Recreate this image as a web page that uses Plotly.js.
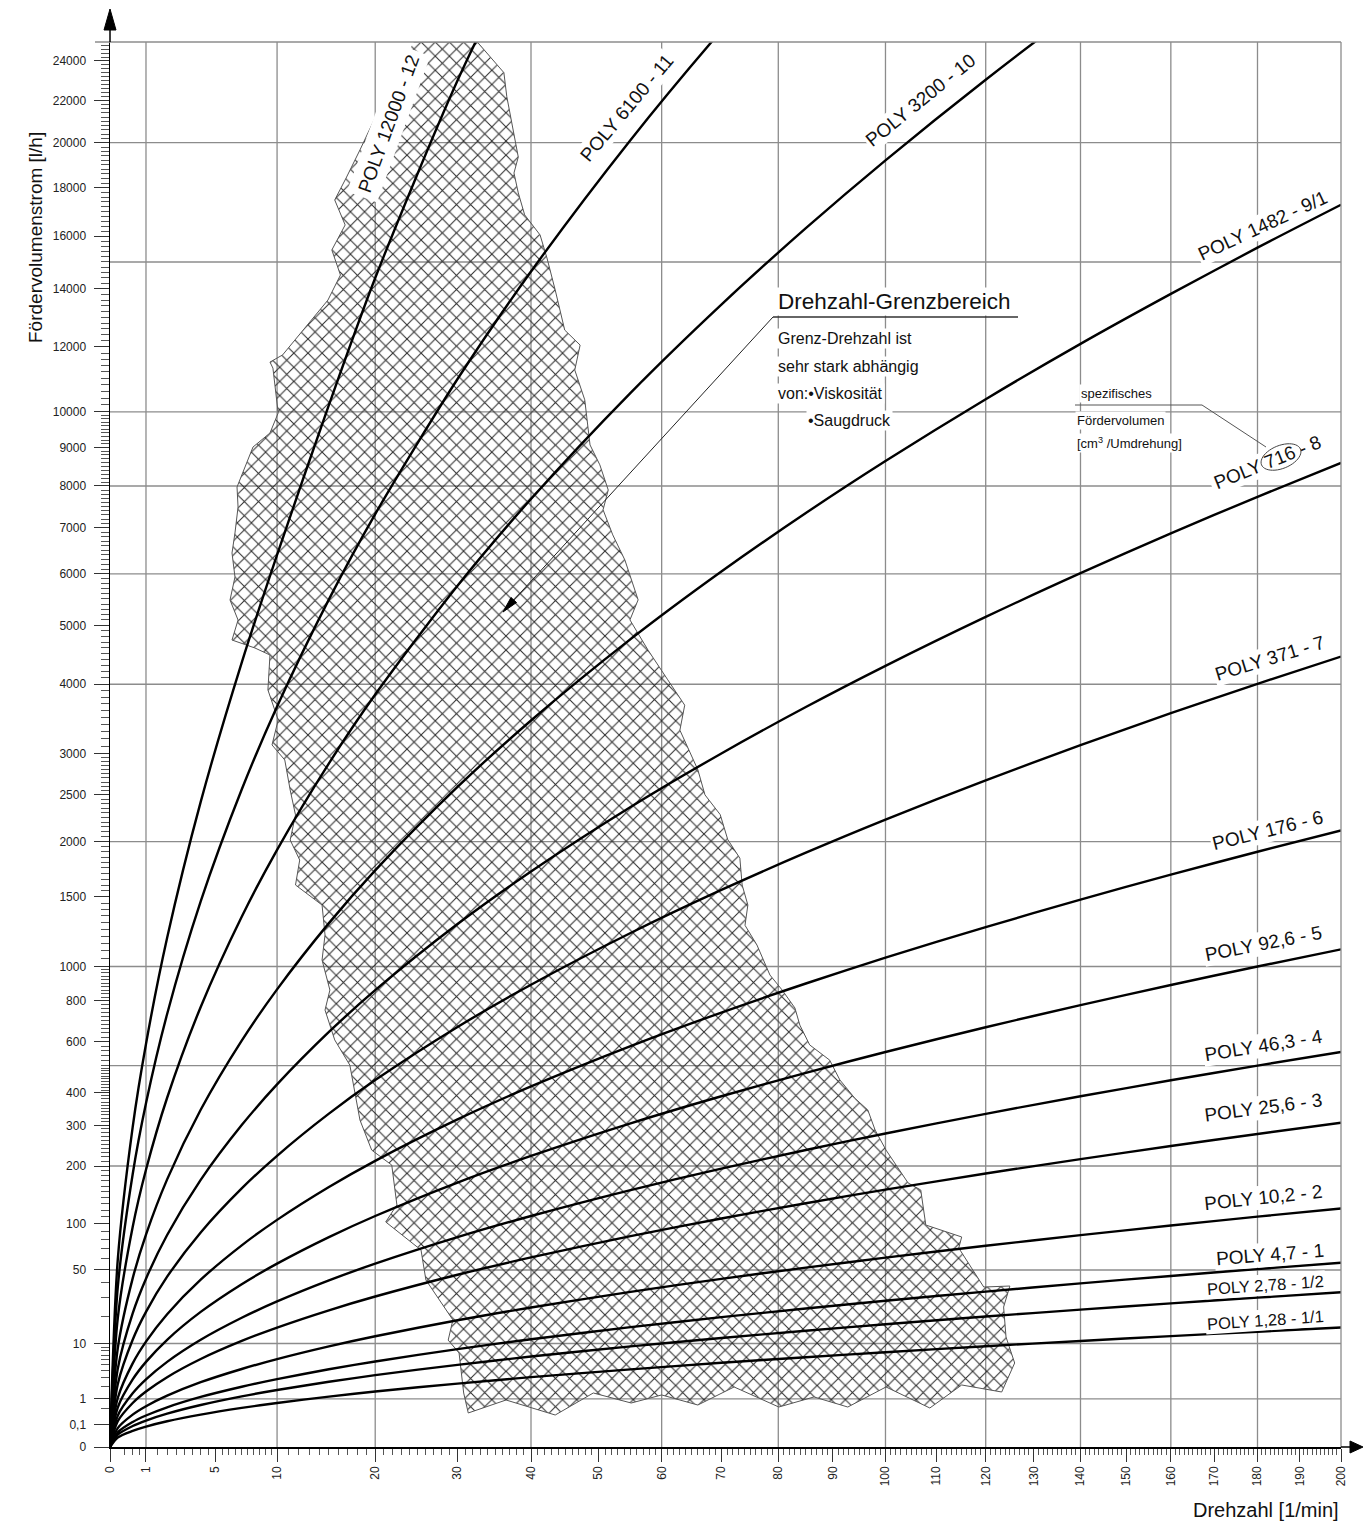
<!DOCTYPE html>
<html><head><meta charset="utf-8">
<script src="https://cdn.plot.ly/plotly-3.0.1.min.js"></script>
<style>html,body{margin:0;padding:0;background:#fff}#chart{width:1363px;height:1529px}</style>
</head><body><div id="chart"></div>
<script>
// ---------------- data ----------------
// speed grid [1/min] at which each characteristic was read
const speeds = [0, 0.1, 0.5, 1, 2, 4, 7, 10, 15, 20, 30, 40, 55, 70, 85, 100, 120, 140, 160, 180, 200];

const seriesNames = ['POLY 1,28 - 1/1', 'POLY 2,78 - 1/2', 'POLY 4,7 - 1', 'POLY 10,2 - 2', 'POLY 25,6 - 3',
  'POLY 46,3 - 4', 'POLY 92,6 - 5', 'POLY 176 - 6', 'POLY 371 - 7', 'POLY 716 - 8', 'POLY 1482 - 9/1',
  'POLY 3200 - 10', 'POLY 6100 - 11', 'POLY 12000 - 12'];

// flow [l/h] at the speeds above
const flowPoly1_28 = [0, 0.0077, 0.038, 0.077, 0.154, 0.307, 0.538, 0.768, 1.15, 1.54, 2.3, 3.07, 4.22, 5.38, 6.53, 7.68, 9.22, 10.75, 12.29, 13.82, 15.36];
const flowPoly2_78 = [0, 0.0167, 0.083, 0.167, 0.334, 0.667, 1.17, 1.67, 2.5, 3.34, 5.0, 6.67, 9.17, 11.68, 14.18, 16.68, 20.02, 23.35, 26.69, 30.02, 33.36];
const flowPoly4_7 = [0, 0.028, 0.141, 0.282, 0.564, 1.13, 1.97, 2.82, 4.23, 5.64, 8.46, 11.28, 15.51, 19.74, 23.97, 28.2, 33.84, 39.48, 45.12, 50.76, 56.4];
const flowPoly10_2 = [0, 0.061, 0.306, 0.612, 1.22, 2.45, 4.28, 6.12, 9.18, 12.24, 18.36, 24.48, 33.66, 42.84, 52.02, 61.2, 73.44, 85.68, 97.92, 110.2, 122.4];
const flowPoly25_6 = [0, 0.154, 0.768, 1.54, 3.07, 6.14, 10.75, 15.36, 23.04, 30.72, 46.08, 61.44, 84.48, 107.5, 130.6, 153.6, 184.3, 215, 245.8, 276.5, 307.2];
const flowPoly46_3 = [0, 0.278, 1.39, 2.78, 5.56, 11.11, 19.45, 27.78, 41.67, 55.56, 83.34, 111.1, 152.8, 194.5, 236.1, 277.8, 333.4, 388.9, 444.5, 500, 555.6];
const flowPoly92_6 = [0, 0.556, 2.78, 5.56, 11.11, 22.22, 38.89, 55.56, 83.34, 111.1, 166.7, 222.2, 305.6, 388.9, 472.3, 555.6, 666.7, 777.8, 889, 1000, 1111];
const flowPoly176 = [0, 1.06, 5.28, 10.56, 21.12, 42.24, 73.92, 105.6, 158.4, 211.2, 316.8, 422.4, 580.8, 739.2, 897.6, 1056, 1267, 1478, 1690, 1901, 2112];
const flowPoly371 = [0, 2.23, 11.13, 22.26, 44.52, 89.04, 155.8, 222.6, 333.9, 445.2, 667.8, 890.4, 1224, 1558, 1892, 2226, 2671, 3116, 3562, 4007, 4452];
const flowPoly716 = [0, 4.3, 21.48, 42.96, 85.92, 171.8, 300.7, 429.6, 644.4, 859.2, 1289, 1718, 2363, 3007, 3652, 4296, 5155, 6014, 6874, 7733, 8592];
const flowPoly1482 = [0, 8.64, 43.2, 86.4, 172.8, 345.6, 604.8, 864, 1296, 1728, 2592, 3456, 4752, 6048, 7344, 8640, 10370, 12100, 13820, 15550, 17280];
const flowPoly3200 = [0, 19.2, 96, 192, 384, 768, 1344, 1920, 2880, 3840, 5760, 7680, 10560, 13440, 16320, 19200, 23040, 26880, 30720, 34560, 38400];
const flowPoly6100 = [0, 36.6, 183, 366, 732, 1464, 2562, 3660, 5490, 7320, 10980, 14640, 20130, 25620, 31110];
const flowPoly12000 = [0, 59, 295, 590, 1190, 2420, 4350, 6400, 10200, 14400, 23000, 31500];

const seriesFlows = [flowPoly1_28, flowPoly2_78, flowPoly4_7, flowPoly10_2, flowPoly25_6, flowPoly46_3,
  flowPoly92_6, flowPoly176, flowPoly371, flowPoly716, flowPoly1482, flowPoly3200, flowPoly6100, flowPoly12000];

// "Drehzahl-Grenzbereich" (hatched speed-limit region), outline vertices
const hatchSpeed = [24.5, 32.6, 36.2, 36.6, 38.2, 37.6, 38.2, 39.1, 41.3, 42.3,
  43.5, 44.9, 47.2, 46.4, 47.9, 48.7, 50.2, 51.5, 50.7, 52.2,
  54.1, 56.2, 54.9, 57.8, 61.0, 63.8, 63.0, 66.0, 67.2, 69.8,
  71.1, 73.2, 73.6, 74.6, 74.1, 76.2, 78.5, 80.7, 83.0, 83.9,
  85.7, 89.4, 91.3, 94.1, 96.6, 98.0, 100.1, 104.4, 106.9, 107.9,
  115.1, 114.5, 119.6, 125.0, 123.7, 124.2, 126.0, 123.3, 115.1, 108.7,
  100.1, 92.8, 86.5, 80.1, 72.2, 66.0, 60.0, 55.1, 49.2, 43.5,
  36.5, 31.4, 30.8, 30.2, 28.8, 29.4, 26.0, 25.4, 21.2, 22.5,
  21.9, 19.6, 18.3, 17.8, 17.2, 15.6, 14.6, 15.1, 14.3, 14.6,
  14.3, 11.7, 12.1, 11.2, 11.7, 11.2, 10.7, 9.55, 10.1, 9.19,
  9.37, 8.08, 6.24, 6.71, 6.09, 6.47, 6.24, 6.47, 6.71, 6.63,
  7.92, 9.37, 10.1, 9.63, 9.37, 10.5, 13.1, 14.9, 16.2, 15.3,
  16.7, 15.6, 16.8, 18.3, 20.3];
const hatchFlow = [25000, 25000, 23400, 22200, 19350, 18640, 17780, 16860, 16050, 15150,
  13960, 12560, 12060, 11260, 10350, 9070, 8540, 7900, 7420, 6840,
  6290, 5480, 5100, 4560, 4070, 3680, 3320, 2800, 2500, 2280,
  2020, 1840, 1600, 1435, 1280, 1140, 948, 860, 763, 677,
  586, 522, 446, 383, 345, 287, 236, 166, 153, 98.6,
  83.5, 71, 36.9, 37.6, 24.7, 12, 5.34, 1.5, 2.15, 0.535,
  1.95, 0.576, 1.13, 0.576, 1.95, 0.668, 1.27, 0.768, 1.42, 0.295,
  0.936, 0.355, 1.42, 7.49, 11, 18.5, 42, 68.9, 102.7, 128,
  202, 236, 315, 393, 502, 608, 752, 860, 1041, 1210,
  1435, 1600, 1823, 2016, 2276, 2556, 2923, 3119, 3464, 3911,
  4478, 4598, 4737, 5098, 5477, 5936, 6441, 6883, 7487, 7975,
  9014, 9398, 9965, 11320, 11510, 11740, 12830, 13600, 14510, 15460,
  16450, 17480, 18420, 19670, 21450];

// axes
const xTickValues = [0, 1, 5, 10, 20, 30, 40, 50, 60, 70, 80, 90, 100, 110, 120, 130, 140, 150, 160, 170, 180, 190, 200];
const xTickLabels = ['0', '1', '5', '10', '20', '30', '40', '50', '60', '70', '80', '90', '100', '110', '120', '130', '140', '150', '160', '170', '180', '190', '200'];
const yTickValues = [0, 0.1, 1, 10, 50, 100, 200, 300, 400, 600, 800, 1000, 1500, 2000, 2500, 3000, 4000, 5000, 6000, 7000, 8000, 9000, 10000, 12000, 14000, 16000, 18000, 20000, 22000, 24000];
const yTickLabels = ['0', '0,1', '1', '10', '50', '100', '200', '300', '400', '600', '800', '1000', '1500', '2000', '2500', '3000', '4000', '5000', '6000', '7000', '8000', '9000', '10000', '12000', '14000', '16000', '18000', '20000', '22000', '24000'];
const gridSpeeds = [1, 10, 20, 40, 60, 80, 100, 120, 140, 160, 180];
const gridFlows = [1, 10, 50, 200, 500, 1000, 2000, 4000, 6000, 8000, 10000, 15000, 20000];

// ---------------- scales (x ~ n^(2/3), y ~ Q^(1/3)) ----------------
const TX = n => Math.pow(n, 2 / 3);
const TY = q => Math.cbrt(q);
const XMAX = TX(200), YMAX = TY(25000);
const FONT = '"Liberation Sans", Arial, sans-serif';

// pixel -> paper helper for layout decorations
const L = 110, R = 1341, B = 1447, T = 42;
const PX = p => (p - L) / (R - L);
const PY = p => (B - p) / (B - T);

// minor ticks
function steps(a, b, s, skip) { const o = []; for (let v = a; v < b - 1e-9; v += s) { const r = Math.round(v * 1000) / 1000; if (!skip.includes(r)) o.push(r); } return o; }
const minorX = [0.25, 0.5, 0.75].concat(steps(1.5, 10, 0.5, xTickValues), steps(11, 200, 1, xTickValues));
const minorY = [0.5].concat(steps(2, 10, 1, yTickValues), steps(20, 50, 10, yTickValues), steps(60, 100, 10, yTickValues),
  steps(110, 500, 10, yTickValues), steps(500, 1000, 20, yTickValues), steps(1050, 3000, 50, yTickValues),
  steps(3100, 10000, 100, yTickValues), steps(10200, 25000, 200, yTickValues));

// ---------------- traces ----------------
const traces = [];
traces.push({
  type: 'scatter', mode: 'lines', x: hatchSpeed.map(TX), y: hatchFlow.map(TY),
  fill: 'toself', fillcolor: 'rgba(0,0,0,0)',
  fillpattern: {shape: 'x', size: 10, solidity: 0.2, fgcolor: '#2e2e2e', bgcolor: 'rgba(0,0,0,0)', fgopacity: 1},
  line: {color: '#555', width: 1}, hoverinfo: 'skip', showlegend: false
});
seriesFlows.forEach((vals, i) => {
  traces.push({
    type: 'scatter', mode: 'lines', name: seriesNames[i],
    x: speeds.slice(0, vals.length).map(TX), y: vals.map(TY),
    line: {color: '#000', width: 2.4, shape: 'spline', smoothing: 0.8},
    hoverinfo: 'skip', showlegend: false
  });
});

// ---------------- shapes ----------------
const GRID = {color: '#8c8c8c', width: 1.3};
const shapes = [];
gridSpeeds.forEach(n => shapes.push({type: 'line', layer: 'below', xref: 'x', yref: 'paper', x0: TX(n), x1: TX(n), y0: 0, y1: 1, line: GRID}));
gridFlows.forEach(q => shapes.push({type: 'line', layer: 'below', xref: 'paper', yref: 'y', x0: 0, x1: 1, y0: TY(q), y1: TY(q), line: GRID}));
// frame top & right
shapes.push({type: 'line', xref: 'paper', yref: 'paper', x0: PX(95), x1: 1, y0: 1, y1: 1, line: GRID});
shapes.push({type: 'line', xref: 'paper', yref: 'paper', x0: 1, x1: 1, y0: 0, y1: 1, line: GRID});
// white box behind the "POLY 716 - 8" label (drawn below the curves)
function rotRect(cx, cy, hw, hh, deg) {
  const a = deg * Math.PI / 180, ux = Math.cos(a), uy = Math.sin(a), vx = -Math.sin(a), vy = Math.cos(a);
  const pts = [[-hw, -hh], [hw, -hh], [hw, hh], [-hw, hh]].map(p => [cx + p[0] * ux + p[1] * vx, cy + p[0] * uy + p[1] * vy]);
  return 'M ' + pts.map(p => PX(p[0]) + ' ' + PY(p[1])).join(' L ') + ' Z';
}
shapes.push({type: 'path', layer: 'below', xref: 'paper', yref: 'paper', path: rotRect(1267, 463, 60, 12, -22), fillcolor: '#fff', line: {width: 0}});
// axis extensions + arrows
shapes.push({type: 'line', xref: 'paper', yref: 'paper', x0: PX(110), x1: PX(110), y0: PY(42), y1: PY(28), line: {color: '#000', width: 1.5}});
shapes.push({type: 'path', xref: 'paper', yref: 'paper', path: `M ${PX(104)} ${PY(30)} L ${PX(116)} ${PY(30)} L ${PX(110)} ${PY(9)} Z`, fillcolor: '#000', line: {color: '#000', width: 1}});
shapes.push({type: 'line', xref: 'paper', yref: 'paper', x0: PX(1341), x1: PX(1352), y0: PY(1447), y1: PY(1447), line: {color: '#000', width: 1.5}});
shapes.push({type: 'path', xref: 'paper', yref: 'paper', path: `M ${PX(1350)} ${PY(1441)} L ${PX(1350)} ${PY(1453)} L ${PX(1363)} ${PY(1447)} Z`, fillcolor: '#000', line: {color: '#000', width: 1}});
// Drehzahl-Grenzbereich underline + leader + arrow head
shapes.push({type: 'line', xref: 'paper', yref: 'paper', x0: PX(773), x1: PX(1018), y0: PY(317), y1: PY(317), line: {color: '#333', width: 1.5}});
shapes.push({type: 'line', xref: 'paper', yref: 'paper', x0: PX(773), x1: PX(512), y0: PY(317), y1: PY(602), line: {color: '#222', width: 1}});
shapes.push({type: 'path', xref: 'paper', yref: 'paper', path: `M ${PX(503)} ${PY(612)} L ${PX(516.5)} ${PY(602.5)} L ${PX(511)} ${PY(597.5)} Z`, fillcolor: '#000', line: {color: '#000', width: 1}});
// spezifisches Fördervolumen leader
shapes.push({type: 'line', xref: 'paper', yref: 'paper', x0: PX(1075), x1: PX(1202), y0: PY(405), y1: PY(405), line: {color: '#555', width: 1}});
shapes.push({type: 'line', xref: 'paper', yref: 'paper', x0: PX(1202), x1: PX(1266), y0: PY(405), y1: PY(447), line: {color: '#555', width: 1}});
// ellipse around "716"
(function () {
  const cx = 1281, cy = 457, rx = 21, ry = 11.5, a = -22 * Math.PI / 180;
  let d = '';
  for (let k = 0; k <= 48; k++) {
    const t = k / 48 * 2 * Math.PI;
    const ex = rx * Math.cos(t), ey = ry * Math.sin(t);
    const x = cx + ex * Math.cos(a) - ey * Math.sin(a);
    const y = cy + ex * Math.sin(a) + ey * Math.cos(a);
    d += (k === 0 ? 'M ' : ' L ') + PX(x) + ' ' + PY(y);
  }
  shapes.push({type: 'path', layer: 'above', xref: 'paper', yref: 'paper', path: d + ' Z', line: {color: '#444', width: 1}});
})();

// ---------------- annotations ----------------
function note(text, px, py, size, opt) {
  return Object.assign({xref: 'paper', yref: 'paper', x: PX(px), y: PY(py), text: text, showarrow: false,
    xanchor: 'center', yanchor: 'middle', font: {family: FONT, size: size, color: '#111'},
    bgcolor: 'white', borderpad: 1}, opt || {});
}
// curve label placement: [centerX px, centerY px, angle, size, pad]
const labelPlace = [
  [1265, 1320, -4, 16.5, 1], [1265, 1285, -4, 16.5, 1], [1270, 1254, -4.5, 19, 1], [1263, 1197, -6, 19, 1],
  [1263, 1107, -7.5, 19, 1], [1263, 1045, -9, 19, 1], [1263, 943, -11, 19, 1], [1267, 830, -14, 19, 1],
  [1269, 658, -17, 19, 1], [1267, 463, -22, 19, 1], [1263, 226, -25, 19, 1], [920, 100, -39, 19, 1],
  [626, 108, -50, 19, 1], [388, 124, -70, 19, 5]];
const annotations = seriesNames.map((s, i) => note(s, labelPlace[i][0], labelPlace[i][1], labelPlace[i][3],
  {textangle: labelPlace[i][2], borderpad: labelPlace[i][4], bgcolor: i === 9 ? 'rgba(0,0,0,0)' : 'white'}));

annotations.push(note('Drehzahl-Grenzbereich', 776, 301, 22.5, {xanchor: 'left'}));
annotations.push(note('Grenz-Drehzahl ist', 776, 338, 16, {xanchor: 'left'}));
annotations.push(note('sehr stark abhängig', 776, 366, 16, {xanchor: 'left'}));
annotations.push(note('von:•Viskosität', 776, 393, 16, {xanchor: 'left'}));
annotations.push(note('•Saugdruck', 806, 420, 16, {xanchor: 'left'}));
annotations.push(note('spezifisches', 1079, 394, 13, {xanchor: 'left'}));
annotations.push(note('Fördervolumen', 1075, 420, 13, {xanchor: 'left'}));
annotations.push(note('[cm<sup>3</sup> /Umdrehung]', 1075, 443, 13, {xanchor: 'left'}));
annotations.push(note('Fördervolumenstrom [l/h]', 35, 238, 19, {textangle: -90, bgcolor: 'rgba(0,0,0,0)'}));
annotations.push(note('Drehzahl [1/min]', 1266, 1510, 20, {bgcolor: 'rgba(0,0,0,0)'}));

// ---------------- layout ----------------
const layout = {
  width: 1363, height: 1529,
  margin: {l: L, r: 1363 - R, t: T, b: 1529 - B, pad: 0},
  paper_bgcolor: '#fff', plot_bgcolor: '#fff',
  showlegend: false, hovermode: false,
  font: {family: FONT, color: '#222'},
  xaxis: {
    range: [0, XMAX], tickmode: 'array', tickvals: xTickValues.map(TX), ticktext: xTickLabels,
    tickangle: -90, ticks: 'outside', ticklen: 13, tickwidth: 1, tickcolor: '#333',
    tickfont: {family: FONT, size: 12, color: '#222'},
    showgrid: false, zeroline: false, showline: true, linecolor: '#000', linewidth: 1.5,
    minor: {tickmode: 'array', tickvals: minorX.map(TX), ticks: 'outside', ticklen: 6, tickwidth: 1, tickcolor: '#555', showgrid: false}
  },
  yaxis: {
    range: [0, YMAX], tickmode: 'array', tickvals: yTickValues.map(TY), ticktext: yTickLabels,
    ticks: 'outside', ticklen: 15, tickwidth: 1, tickcolor: '#333',
    tickfont: {family: FONT, size: 12, color: '#222'}, ticklabelstandoff: 5,
    showgrid: false, zeroline: false, showline: true, linecolor: '#000', linewidth: 1.5,
    minor: {tickmode: 'array', tickvals: minorY.map(TY), ticks: 'outside', ticklen: 8, tickwidth: 1, tickcolor: '#555', showgrid: false}
  },
  shapes: shapes,
  annotations: annotations
};

Plotly.newPlot('chart', traces, layout, {staticPlot: true, displayModeBar: false});
</script>
</body></html>
